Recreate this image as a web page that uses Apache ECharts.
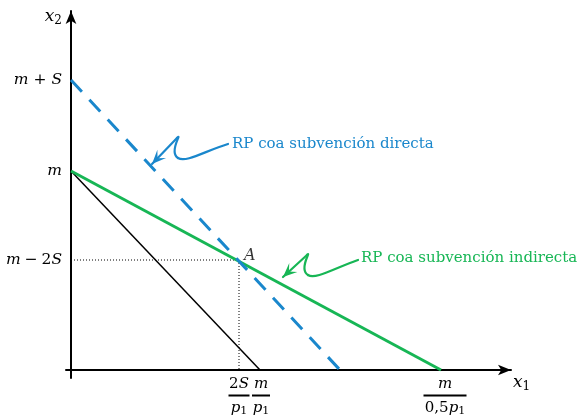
<!DOCTYPE html>
<html>
<head>
<meta charset="utf-8">
<script src="https://cdn.jsdelivr.net/npm/echarts@6/dist/echarts.min.js"></script>
<style>
  html, body { margin: 0; padding: 0; background: #fff; }
  #chart { width: 585px; height: 418px; }
</style>
</head>
<body>
<div id="chart"></div>
<script>
// Budget lines, in plot units with the origin at (0, 0)
const baseBudget      = [[0, 199], [189, 0]];   // m  ->  m/p1
const directSubsidy   = [[0, 290], [269, 0]];   // m+S  -> intercept on x1
const indirectSubsidy = [[0, 199], [370, 0]];   // m  ->  m/(0,5 p1)
const pointA          = [168, 110];
const guideA          = [[0, 110], [168, 110], [168, 0]];

// Axis tick positions and their math labels
const yTickValues = [290, 199, 110];
const yTickLabels = ['{i|m} + {i|S}', '{i|m}', '{i|m}\u2005−\u20052{i|S}'];
const xTickValues = [168, 189, 370];
const xTickLabels = [
  '{nr|2}{ni|S}\n{bar1|}\n{di|p}{sub|1}',
  '{gapS|}{ni|m}\n{gapS|}{bar2|}\n{gapS|}{di|p}{sub|1}',
  '{gapL|}{ni|m}\n{gapL|}{bar3|}\n{gapL|}{dr|0,5}{di|p}{sub|1}'
];

// Callout arrows: the point on each line they aim at
const directTip   = [81, 206];
const indirectTip = [212, 93];
const directText   = 'RP coa subvención directa';
const indirectText = 'RP coa subvención indirecta';

const BLUE = '#1a87cc';
const GREEN = '#17b655';
const MATH = 'DejaVu Serif';

const chart = echarts.init(document.getElementById('chart'), null, { renderer: 'canvas' });

const numBase = { fontFamily: MATH, fontSize: 15, lineHeight: 16, color: '#000' };
const denBase = { fontFamily: MATH, fontSize: 15, lineHeight: 18, color: '#000' };
const bar = w => ({ width: w, height: 2, backgroundColor: '#000', lineHeight: 7 });
const gap = w => ({ width: w, height: 1, lineHeight: 1, fontSize: 1 });
const nameRich = {
  i: { fontFamily: MATH, fontStyle: 'italic', fontSize: 17, lineHeight: 20, color: '#000' },
  s: { fontFamily: MATH, fontSize: 12, height: 12, verticalAlign: 'bottom', color: '#000' }
};

chart.setOption({
  animation: false,
  backgroundColor: '#fff',
  grid: { left: 66, right: 74, top: 11, bottom: 40, containLabel: false, outerBoundsMode: 'none' },
  xAxis: {
    type: 'value', min: -5, max: 440,
    splitLine: { show: false },
    axisTick: { show: false },
    axisLine: { onZero: true, lineStyle: { color: '#000', width: 2 }, symbol: ['none', 'arrow'], symbolSize: [8, 13] },
    name: '{i|x}{s|1}',
    nameLocation: 'end',
    nameGap: 2,
    nameTextStyle: { align: 'left', verticalAlign: 'middle', padding: [26, 0, 0, 0], rich: nameRich },
    axisLabel: {
      customValues: xTickValues,
      hideOverlap: false,
      margin: -2,
      formatter: v => xTickLabels[xTickValues.indexOf(v)] || '',
      rich: {
        nr: numBase,
        ni: Object.assign({}, numBase, { fontStyle: 'italic' }),
        di: Object.assign({}, denBase, { fontStyle: 'italic' }),
        dr: denBase,
        sub: { fontFamily: MATH, fontSize: 11, height: 11, verticalAlign: 'bottom', color: '#000' },
        gapS: gap(2), gapL: gap(8),
        bar1: bar(21), bar2: bar(18), bar3: bar(43)
      }
    }
  },
  yAxis: {
    type: 'value', min: -8, max: 359,
    splitLine: { show: false },
    axisTick: { show: false },
    axisLine: { onZero: true, lineStyle: { color: '#000', width: 2 }, symbol: ['none', 'arrow'], symbolSize: [8, 13] },
    name: '{i|x}{s|2}',
    nameLocation: 'end',
    nameGap: -6,
    nameTextStyle: { align: 'right', verticalAlign: 'middle', padding: [0, 9, 0, 0], rich: nameRich },
    axisLabel: {
      customValues: yTickValues,
      margin: 4,
      fontFamily: MATH, fontSize: 15.5, color: '#000',
      formatter: v => yTickLabels[yTickValues.indexOf(v)] || '',
      rich: {
        i: { fontFamily: MATH, fontStyle: 'italic', fontSize: 15.5, color: '#000' }
      }
    }
  },
  series: [
    {
      name: 'RP inicial', type: 'line', data: baseBudget, symbol: 'none',
      lineStyle: { color: '#000', width: 1.5 }, z: 3
    },
    {
      name: 'RP subvención indirecta', type: 'line', data: indirectSubsidy, symbol: 'none',
      lineStyle: { color: GREEN, width: 3 }, z: 4
    },
    {
      name: 'RP subvención directa', type: 'line', data: directSubsidy, symbol: 'none',
      lineStyle: { color: BLUE, width: 3, type: [16, 11], cap: 'butt' }, z: 5
    },
    {
      name: 'guía A', type: 'line', data: guideA, symbol: 'none',
      lineStyle: { color: '#000', width: 1, type: [1, 2] }, z: 2
    },
    {
      name: 'A', type: 'scatter', data: [pointA], symbolSize: 0, z: 6,
      label: {
        show: true, position: 'right', distance: 5, offset: [0, -4],
        formatter: 'A', fontFamily: MATH, fontStyle: 'italic', fontSize: 16, color: '#000'
      }
    }
  ]
});

// Hand-drawn style callouts, anchored to the lines they point at
function arrowHead(tip, from, color) {
  const dx = tip[0] - from[0], dy = tip[1] - from[1];
  const L = Math.hypot(dx, dy), ux = dx / L, uy = dy / L;
  const nx = -uy, ny = ux, len = 14, half = 6, notch = 8;
  return {
    type: 'polygon', z: 20,
    shape: { points: [
      tip,
      [tip[0] - ux * len + nx * half, tip[1] - uy * len + ny * half],
      [tip[0] - ux * notch, tip[1] - uy * notch],
      [tip[0] - ux * len - nx * half, tip[1] - uy * len - ny * half]
    ] },
    style: { fill: color }
  };
}

function callout(tipData, shape, color, text, textDx, textDy) {
  const t = chart.convertToPixel({ gridIndex: 0 }, tipData);
  const P = p => [t[0] + p[0], t[1] + p[1]];
  const [s, c1, c2, m, c3, c4, e] = shape.map(P);
  const st = { stroke: color, lineWidth: 2.2, fill: null, lineCap: 'round', lineJoin: 'round' };
  return [
    { type: 'line', z: 19, shape: { x1: t[0], y1: t[1], x2: s[0], y2: s[1] }, style: st },
    { type: 'bezierCurve', z: 19, shape: { x1: s[0], y1: s[1], cpx1: c1[0], cpy1: c1[1], cpx2: c2[0], cpy2: c2[1], x2: m[0], y2: m[1] }, style: st },
    { type: 'bezierCurve', z: 19, shape: { x1: m[0], y1: m[1], cpx1: c3[0], cpy1: c3[1], cpx2: c4[0], cpy2: c4[1], x2: e[0], y2: e[1] }, style: st },
    arrowHead(t, s, color),
    {
      type: 'text', z: 19, x: e[0] + textDx, y: e[1] + textDy,
      style: { text: text, fill: color, font: '15px "DejaVu Serif"', textAlign: 'left', textVerticalAlign: 'middle' }
    }
  ];
}

const directShape   = [[25, -26], [31, -32], [16, -12], [26, -6], [34, -1], [53, -13], [76, -20]];
const indirectShape = [[24, -22], [29, -27], [15, -8], [25, -2], [32, 3], [52, -9], [75, -17]];

chart.setOption({
  graphic: [].concat(
    callout(directTip, directShape, BLUE, directText, 4, 0),
    callout(indirectTip, indirectShape, GREEN, indirectText, 3, -1.5)
  )
});
</script>
</body>
</html>
